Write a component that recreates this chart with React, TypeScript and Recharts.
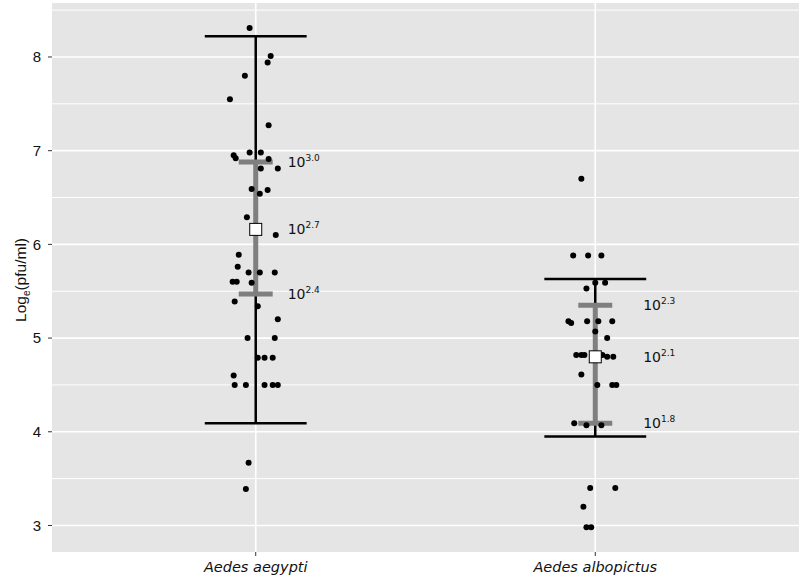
import * as React from "react";
import {
  ComposedChart,
  Scatter,
  XAxis,
  YAxis,
  CartesianGrid,
  ReferenceLine,
} from "recharts";

// categories on a numeric axis (1, 2) so jitter can be kept
const categories = ["Aedes aegypti", "Aedes albopictus"];
const categoryPos = [1, 2];

// jittered observations: dx = horizontal jitter in category units, y = log_e(pfu/ml)
const aegyptiPoints = [
  { dx: -0.018, y: 8.31 }, { dx: 0.044, y: 8.01 }, { dx: 0.035, y: 7.94 },
  { dx: -0.032, y: 7.8 }, { dx: -0.076, y: 7.55 }, { dx: 0.038, y: 7.27 },
  { dx: -0.018, y: 6.98 }, { dx: 0.015, y: 6.98 }, { dx: -0.065, y: 6.95 },
  { dx: -0.059, y: 6.92 }, { dx: 0.038, y: 6.91 }, { dx: 0.015, y: 6.81 },
  { dx: 0.065, y: 6.81 }, { dx: -0.012, y: 6.59 }, { dx: 0.035, y: 6.58 },
  { dx: 0.012, y: 6.54 }, { dx: -0.026, y: 6.29 }, { dx: 0.059, y: 6.1 },
  { dx: -0.05, y: 5.89 }, { dx: -0.053, y: 5.76 }, { dx: -0.021, y: 5.7 },
  { dx: 0.012, y: 5.7 }, { dx: 0.056, y: 5.7 }, { dx: -0.068, y: 5.6 },
  { dx: -0.056, y: 5.6 }, { dx: -0.012, y: 5.59 }, { dx: -0.062, y: 5.39 },
  { dx: 0.006, y: 5.34 }, { dx: 0.065, y: 5.2 }, { dx: -0.024, y: 5.0 },
  { dx: 0.056, y: 5.0 }, { dx: 0.006, y: 4.79 }, { dx: 0.026, y: 4.79 },
  { dx: 0.05, y: 4.79 }, { dx: -0.065, y: 4.6 }, { dx: -0.062, y: 4.5 },
  { dx: -0.029, y: 4.5 }, { dx: 0.026, y: 4.5 }, { dx: 0.05, y: 4.5 },
  { dx: 0.065, y: 4.5 }, { dx: -0.021, y: 3.67 }, { dx: -0.029, y: 3.39 },
];

const albopictusPoints = [
  { dx: -0.041, y: 6.7 }, { dx: -0.065, y: 5.88 }, { dx: -0.021, y: 5.88 },
  { dx: 0.018, y: 5.88 }, { dx: 0.0, y: 5.59 }, { dx: 0.029, y: 5.59 },
  { dx: -0.026, y: 5.53 }, { dx: -0.079, y: 5.18 }, { dx: -0.071, y: 5.16 },
  { dx: -0.024, y: 5.18 }, { dx: 0.009, y: 5.18 }, { dx: 0.05, y: 5.18 },
  { dx: 0.0, y: 5.07 }, { dx: 0.035, y: 5.0 }, { dx: -0.056, y: 4.82 },
  { dx: -0.041, y: 4.82 }, { dx: -0.032, y: 4.82 }, { dx: 0.021, y: 4.82 },
  { dx: 0.035, y: 4.8 }, { dx: 0.053, y: 4.8 }, { dx: -0.041, y: 4.61 },
  { dx: 0.006, y: 4.5 }, { dx: 0.05, y: 4.5 }, { dx: 0.062, y: 4.5 },
  { dx: -0.062, y: 4.09 }, { dx: -0.026, y: 4.07 }, { dx: 0.018, y: 4.07 },
  { dx: -0.015, y: 3.4 }, { dx: 0.059, y: 3.4 }, { dx: -0.035, y: 3.2 },
  { dx: -0.026, y: 2.98 }, { dx: -0.012, y: 2.98 },
];

// summary per category
const means = [6.16, 4.8];
const ciLow = [5.47, 4.09];
const ciHigh = [6.88, 5.35];
const rangeLow = [4.09, 3.95];
const rangeHigh = [8.22, 5.63];

// annotation exponents (10^x) at ciHigh, mean, ciLow
const labelHigh = ["3.0", "2.3"];
const labelMean = ["2.7", "2.1"];
const labelLow = ["2.4", "1.8"];
const labelDx = [0.094, 0.141];

const yTicks = [3, 4, 5, 6, 7, 8];
const yMinor = [3.5, 4.5, 5.5, 6.5, 7.5, 8.5];

const BLACK_CAP = 0.15;
const GREY_CAP = 0.05;
const GREY = "#7f7f7f";

const jitter = (pts: { dx: number; y: number }[], pos: number) =>
  pts.map((p) => ({ x: pos + p.dx, y: p.y }));

const meanData = means.map((m, i) => ({ x: categoryPos[i], y: m }));
const labelData = categoryPos.flatMap((pos, i) => [
  { x: pos + labelDx[i], y: ciHigh[i], exp: labelHigh[i] },
  { x: pos + labelDx[i], y: means[i], exp: labelMean[i] },
  { x: pos + labelDx[i], y: ciLow[i], exp: labelLow[i] },
]);

const Dot = (props: any) => <circle cx={props.cx} cy={props.cy} r={3} fill="#000" />;

const MeanSquare = (props: any) => (
  <rect x={props.cx - 6} y={props.cy - 6} width={12} height={12} fill="#fff" stroke="#000" strokeWidth={1} />
);

const PowerLabel = (props: any) => (
  <text x={props.cx} y={props.cy + 5} fontFamily="DejaVu Sans" fontSize={14} fill="#111">
    <tspan>10</tspan>
    <tspan dy={-6} fontSize={9}>{props.payload.exp}</tspan>
  </text>
);

const YTitle = () => (
  <text
    transform="translate(26,280) rotate(-90)"
    textAnchor="middle"
    fontFamily="Liberation Sans"
    fontSize={15.5}
    fill="#111"
  >
    <tspan>Log</tspan>
    <tspan dy={4} fontSize={10}>e</tspan>
    <tspan dy={-4}>(pfu/ml)</tspan>
  </text>
);

export default function App() {
  return (
    <div style={{ position: "fixed", left: 0, top: 0, width: 800, height: 585, background: "#fff" }}>
      <ComposedChart width={800} height={585} margin={{ top: 3, right: 1, bottom: 0, left: 0 }}>
        <CartesianGrid
          fill="#E5E5E5"
          stroke="#fff"
          strokeWidth={1}
          horizontalValues={yMinor}
          vertical={false}
        />
        <CartesianGrid
          stroke="#fff"
          strokeWidth={1.6}
          horizontalValues={yTicks}
          verticalValues={categoryPos}
        />
        <XAxis
          type="number"
          dataKey="x"
          domain={[0.4, 2.6]}
          ticks={categoryPos}
          tickFormatter={(v: number) => categories[categoryPos.indexOf(v)] ?? ""}
          height={33}
          axisLine={false}
          tickSize={4}
          tickMargin={6}
          tickLine={{ stroke: "#333" }}
          tick={{ fontSize: 14.5, fontFamily: "DejaVu Sans", fontStyle: "italic", fill: "#111" }}
          allowDataOverflow
        />
        <YAxis
          type="number"
          dataKey="y"
          domain={[2.717, 8.576]}
          ticks={yTicks}
          width={52}
          axisLine={false}
          tickSize={4}
          tickMargin={7}
          tickLine={{ stroke: "#333" }}
          tick={{ fontSize: 15, fontFamily: "Liberation Sans", fill: "#111" }}
          label={{ content: () => <YTitle /> }}
          allowDataOverflow
        />
        <Scatter data={jitter(aegyptiPoints, 1)} shape={Dot} isAnimationActive={false} />
        <Scatter data={jitter(albopictusPoints, 2)} shape={Dot} isAnimationActive={false} />

        {categoryPos.map((pos, i) => (
          <ReferenceLine
            key={`rv${i}`}
            segment={[{ x: pos, y: rangeLow[i] }, { x: pos, y: rangeHigh[i] }]}
            stroke="#000"
            strokeWidth={2.5}
          />
        ))}
        {categoryPos.map((pos, i) => (
          <ReferenceLine
            key={`rt${i}`}
            segment={[{ x: pos - BLACK_CAP, y: rangeHigh[i] }, { x: pos + BLACK_CAP, y: rangeHigh[i] }]}
            stroke="#000"
            strokeWidth={2.5}
          />
        ))}
        {categoryPos.map((pos, i) => (
          <ReferenceLine
            key={`rb${i}`}
            segment={[{ x: pos - BLACK_CAP, y: rangeLow[i] }, { x: pos + BLACK_CAP, y: rangeLow[i] }]}
            stroke="#000"
            strokeWidth={2.5}
          />
        ))}
        {categoryPos.map((pos, i) => (
          <ReferenceLine
            key={`cv${i}`}
            segment={[{ x: pos, y: ciLow[i] }, { x: pos, y: ciHigh[i] }]}
            stroke={GREY}
            strokeWidth={5}
          />
        ))}
        {categoryPos.map((pos, i) => (
          <ReferenceLine
            key={`ct${i}`}
            segment={[{ x: pos - GREY_CAP, y: ciHigh[i] }, { x: pos + GREY_CAP, y: ciHigh[i] }]}
            stroke={GREY}
            strokeWidth={5}
          />
        ))}
        {categoryPos.map((pos, i) => (
          <ReferenceLine
            key={`cb${i}`}
            segment={[{ x: pos - GREY_CAP, y: ciLow[i] }, { x: pos + GREY_CAP, y: ciLow[i] }]}
            stroke={GREY}
            strokeWidth={5}
          />
        ))}

        <Scatter data={meanData} shape={MeanSquare} isAnimationActive={false} />
        <Scatter data={labelData} shape={PowerLabel} isAnimationActive={false} />
      </ComposedChart>
    </div>
  );
}
